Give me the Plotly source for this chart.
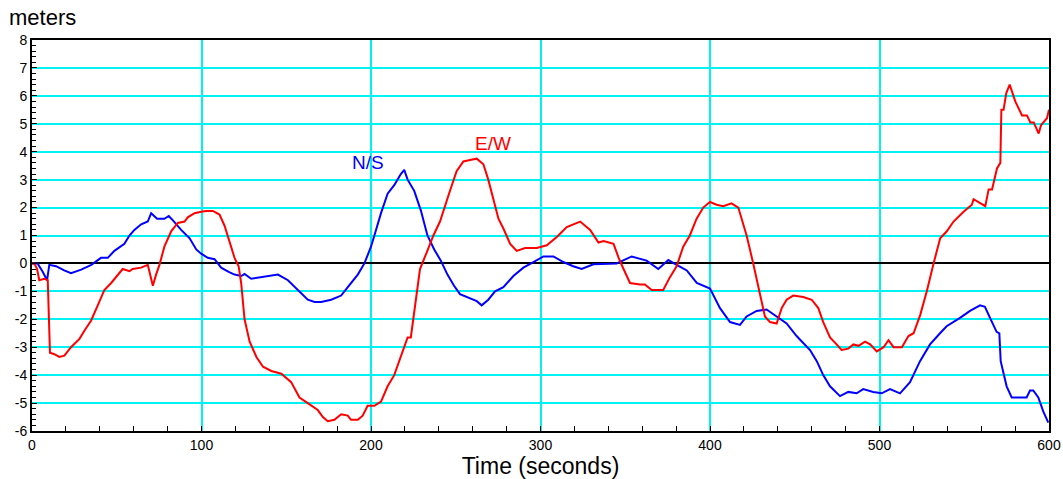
import plotly.graph_objects as go

# N/S series (blue)
ns_t = [0, 1.4, 3.3, 6.3, 8.9, 10.2, 14.2, 19, 23, 29, 35, 40.7, 44.7, 48.6, 54.5, 57.5, 60.4, 64.4, 68.3, 70.3,
        73.8, 78.1, 80.7, 83, 88, 93, 96.9, 99.8, 103.7, 107.7, 111.6, 116, 119.5, 123.4, 125.4, 129.3, 135.3,
        139.2, 145.1, 151, 156.9, 162.7, 166.7, 170.6, 176.5, 182.4, 186.3, 192.2, 196.1, 200, 202, 205.9, 209.8,
        213.7, 217.6, 219.6, 221.6, 225.5, 229.4, 233.3, 237.3, 241.2, 245.1, 249, 252.5, 258.4, 262.4, 265.3,
        269.2, 273.2, 278.1, 284, 289.9, 295.8, 301.7, 307.6, 313.5, 319.3, 324.3, 331.2, 339, 344.9, 353.8,
        362.6, 369.5, 375.4, 380.3, 386.3, 392.2, 400, 405.9, 411.8, 417.7, 421.6, 427.5, 433.4, 439.3, 445.2,
        451.1, 455.1, 459, 463, 466.8, 470.8, 476.7, 481.6, 486.5, 490.4, 496.3, 501.3, 506.2, 512.1, 518,
        523.9, 529.8, 535.7, 539.6, 547.5, 553.4, 559.3, 562.2, 565.2, 569.1, 570.7, 571.5, 575, 578, 583,
        586.8, 588.8, 590.7, 593.7, 596.6, 599.6]
ns_v = [0, 0, 0, -0.3, -0.6, -0.05, -0.1, -0.25, -0.35, -0.22, -0.05, 0.2, 0.2, 0.45, 0.7, 1.0, 1.2, 1.4, 1.5, 1.8,
        1.6, 1.6, 1.7, 1.55, 1.2, 0.9, 0.5, 0.35, 0.2, 0.15, -0.15, -0.3, -0.4, -0.45, -0.38, -0.55, -0.5,
        -0.45, -0.4, -0.6, -0.95, -1.3, -1.38, -1.38, -1.3, -1.15, -0.85, -0.4, 0.0, 0.6, 1.0, 1.8, 2.5,
        2.8, 3.2, 3.35, 3.0, 2.6, 1.9, 1.0, 0.5, 0.1, -0.4, -0.8, -1.1, -1.25, -1.35, -1.5,
        -1.3, -1.0, -0.85, -0.45, -0.15, 0.05, 0.25, 0.25, 0.05, -0.1, -0.2, -0.03, 0.0, 0.0, 0.25,
        0.1, -0.2, 0.12, -0.05, -0.25, -0.7, -0.9, -1.6, -2.1, -2.2, -1.9, -1.7, -1.65, -1.9, -2.15,
        -2.6, -2.85, -3.1, -3.5, -4.0, -4.4, -4.75, -4.6, -4.65, -4.5, -4.6, -4.65, -4.5, -4.65, -4.25,
        -3.5, -2.9, -2.5, -2.25, -1.95, -1.7, -1.5, -1.55, -1.95, -2.45, -2.5, -3.5, -4.4, -4.8, -4.8,
        -4.8, -4.55, -4.55, -4.8, -5.3, -5.7]

# E/W series (red)
ew_t = [0, 1.4, 3, 4.3, 7.3, 9.3, 10.6, 13.2, 16.1, 19.1, 23, 28, 31, 34.8, 38.8, 42.7, 46.7, 50.6, 53.5, 57.5,
        59.4, 64.4, 68.3, 69.3, 71.3, 73.2, 75.2, 78.1, 82.1, 86, 90, 91.9, 95.9, 99.8, 102.8, 106.7, 110.6,
        113.6, 116.5, 119.5, 121.9, 123.4, 125.4, 128.4, 132.4, 136.3, 141.2, 147.1, 152.9, 157.8, 162.7,
        168.6, 171.6, 174.5, 178.4, 182.4, 186.3, 188.2, 192.2, 195.1, 198, 202, 205.9, 209.8, 213.7, 217.6,
        221.6, 223.5, 225.9, 228.9, 232.9, 236.8, 240.7, 243.7, 246.6, 250.5, 254.5, 258.4, 262.4, 266.3,
        269.2, 272.2, 275.2, 278.1, 282.1, 286, 290.9, 297.8, 303.7, 309.6, 315.5, 323.4, 329.3, 334.2,
        337.2, 343.1, 346.1, 349, 352.8, 358.7, 361.6, 365.6, 372.4, 376.3, 380.3, 384.2, 388.1, 392.1, 396,
        400, 403.9, 407.8, 412.7, 416.7, 421.6, 425.5, 429.5, 432.4, 435.4, 439.3, 442.3, 445.2, 449.1, 455,
        460, 463.9, 466.8, 470.8, 474.7, 477.6, 481.6, 484.6, 487.6, 491.5, 494.5, 498.4, 502.4, 505.3,
        508.3, 513.2, 517.1, 520.1, 524, 527.9, 531.9, 535.8, 539.7, 543.7, 549.6, 554.5, 555.5, 559.5,
        562.4, 564.4, 566.4, 569.3, 571.3, 571.9, 573.2, 574.8, 576.8, 580.1, 584.1, 587, 589, 591, 593.9,
        595.3, 598.8, 600]
ew_v = [0, 0, -0.2, -0.6, -0.55, -0.6, -3.2, -3.25, -3.35, -3.3, -3.0, -2.7, -2.4, -2.05, -1.5, -0.95, -0.7, -0.4,
        -0.2, -0.28, -0.2, -0.15, -0.05, -0.3, -0.8, -0.4, -0.05, 0.6, 1.15, 1.45, 1.5, 1.65, 1.8, 1.85, 1.88,
        1.88, 1.75, 1.35, 0.8, 0.2, -0.1, -0.7, -2.0, -2.8, -3.35, -3.7, -3.85, -3.95, -4.25, -4.8, -5.0,
        -5.25, -5.5, -5.65, -5.6, -5.4, -5.45, -5.6, -5.6, -5.45, -5.1, -5.1, -4.95, -4.4, -4.0, -3.35,
        -2.65, -2.65, -1.5, -0.2, 0.4, 1.0, 1.5, 2.1, 2.6, 3.3, 3.65, 3.7, 3.75, 3.55,
        3.0, 2.3, 1.6, 1.25, 0.7, 0.45, 0.55, 0.55, 0.65, 0.95, 1.3, 1.5, 1.2, 0.75,
        0.8, 0.7, 0.2, -0.2, -0.7, -0.75, -0.75, -0.95, -0.95, -0.5, -0.1, 0.6, 1.0, 1.6, 2.0,
        2.2, 2.1, 2.05, 2.15, 2.0, 1.0, 0.0, -1.15, -1.9, -2.1, -2.15, -1.6, -1.3, -1.15, -1.2,
        -1.3, -1.6, -2.1, -2.65, -2.9, -3.1, -3.05, -2.9, -2.95, -2.8, -2.9, -3.15, -3.0, -2.75,
        -3.0, -3.0, -2.6, -2.5, -1.85, -1.0, 0.0, 0.9, 1.15, 1.5, 1.85, 2.1, 2.3, 2.15,
        2.05, 2.65, 2.65, 3.4, 3.6, 5.5, 5.5, 6.1, 6.4, 5.8, 5.3, 5.3, 5.05, 5.05, 4.65,
        4.95, 5.2, 5.5]

x_ticks = [0, 100, 200, 300, 400, 500, 600]
y_ticks = [-6, -5, -4, -3, -2, -1, 0, 1, 2, 3, 4, 5, 6, 7, 8]

FONT = "Liberation Sans, Arial, Helvetica, sans-serif"
GRID = "#00F2F2"

fig = go.Figure()
fig.add_trace(go.Scatter(x=ns_t, y=ns_v, mode="lines", line=dict(color="#0000FF", width=2), name="N/S"))
fig.add_trace(go.Scatter(x=ew_t, y=ew_v, mode="lines", line=dict(color="#FF0000", width=2), name="E/W"))

fig.update_layout(
    width=1063, height=479,
    margin=dict(l=32, r=14, t=40, b=48, autoexpand=False),
    paper_bgcolor="white", plot_bgcolor="white",
    showlegend=False,
    font=dict(family=FONT, size=14, color="black"),
    xaxis=dict(
        range=[0, 600], tickvals=x_ticks, ticktext=[str(v) for v in x_ticks],
        automargin=False,
        showgrid=True, gridcolor=GRID, gridwidth=1.5,
        showline=True, linecolor="black", linewidth=2, mirror=True,
        ticks="inside", ticklen=5, tickcolor="black",
        minor=dict(dtick=20, tick0=0, ticks="inside", ticklen=5, tickcolor="black", showgrid=False),
        zeroline=False,
        title=dict(text="Time (seconds)", font=dict(size=23), standoff=2),
        tickfont=dict(size=14),
    ),
    yaxis=dict(
        range=[-6, 8], tickvals=y_ticks, ticktext=[str(v) for v in y_ticks],
        automargin=False,
        showgrid=True, gridcolor=GRID, gridwidth=1.5,
        showline=True, linecolor="black", linewidth=2, mirror=True,
        ticks="inside", ticklen=5, tickcolor="black",
        minor=dict(dtick=0.2, tick0=0, ticks="inside", ticklen=4, tickcolor="black", showgrid=False),
        zeroline=True, zerolinecolor="black", zerolinewidth=2,
        tickfont=dict(size=14),
    ),
    annotations=[
        dict(text="meters", xref="paper", yref="paper", x=-0.025, y=1.0, yshift=8,
             xanchor="left", yanchor="bottom", showarrow=False, font=dict(size=22, color="black")),
        dict(text="N/S", x=198, y=3.6, xref="x", yref="y", showarrow=False,
             font=dict(size=19, color="#0000FF")),
        dict(text="E/W", x=272, y=4.3, xref="x", yref="y", showarrow=False,
             font=dict(size=19, color="#FF0000")),
    ],
)

fig.write_html("out.html")
